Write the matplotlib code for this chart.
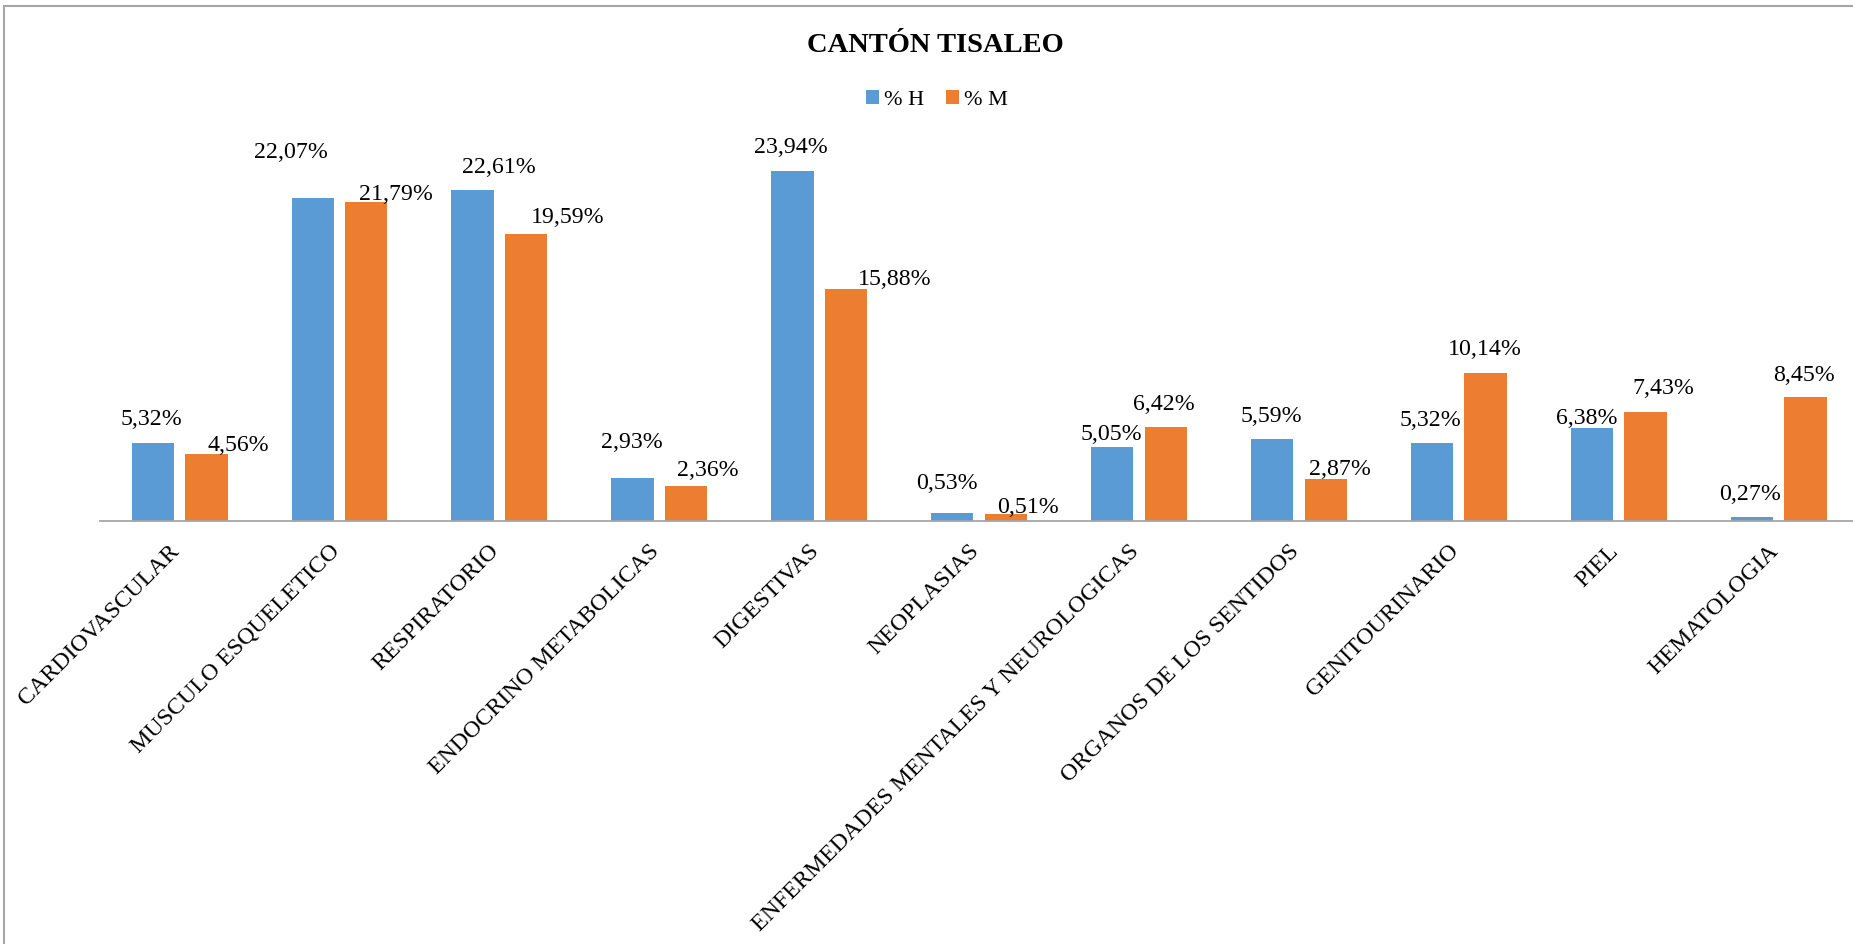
import matplotlib
matplotlib.use("Agg")
import matplotlib.pyplot as plt
import matplotlib.transforms as mtransforms
from matplotlib.patches import Rectangle, Patch
import numpy as np

# ---- data ----
categories = ["CARDIOVASCULAR", "MUSCULO ESQUELETICO", "RESPIRATORIO",
              "ENDOCRINO METABOLICAS", "DIGESTIVAS", "NEOPLASIAS",
              "ENFERMEDADES MENTALES Y NEUROLOGICAS", "ORGANOS DE LOS SENTIDOS",
              "GENITOURINARIO", "PIEL", "HEMATOLOGIA"]
pct_h = [5.32, 22.07, 22.61, 2.93, 23.94, 0.53, 5.05, 5.59, 5.32, 6.38, 0.27]
pct_m = [4.56, 21.79, 19.59, 2.36, 15.88, 0.51, 6.42, 2.87, 10.14, 7.43, 8.45]
series_names = ["% H", "% M"]
title = "CANTÓN TISALEO"

# ---- layout / style ----
W, H = 1853, 944
DPI = 100
blue = "#5B9BD5"
orange = "#ED7D31"
FONT = "Liberation Serif"
# label offsets (pixels: dx right, dy above bar top) as placed in the original
off_h = [(-1.5, 18.3), (-22, 40.3), (26.5, 17.5), (-1.1, 29.8), (-1.6, 17.5),
         (-5, 23.9), (-1, 7.1), (-1, 17.5), (-1.4, 17.2), (-5, 3.7), (-1.5, 17)]
off_m = [(32, 3.6), (29.6, 2.2), (41.4, 11), (21.9, 10.5), (49, 3.7),
         (22.5, 0.8), (-1.75, 17.1), (14, 4), (-1, 17.7), (18.2, 18), (-1.6, 16.7)]

fig = plt.figure(figsize=(W / DPI, H / DPI), dpi=DPI)
fig.patch.set_facecolor("white")

left_px = 99.7
cat_px = 159.9
base_px = 521.0
px_per_unit = 14.63
ymax = 30.0
top_px = base_px - ymax * px_per_unit
ax = fig.add_axes([left_px / W, (H - base_px) / H,
                   len(categories) * cat_px / W, (base_px - top_px) / H])
ax.set_xlim(-0.5, len(categories) - 0.5)
ax.set_ylim(0, ymax)
ax.patch.set_alpha(0)

x = np.arange(len(categories))
bw = 0.2645
bars_h = ax.bar(x - 0.168, pct_h, width=bw, color=blue, linewidth=0)
bars_m = ax.bar(x + 0.167, pct_m, width=bw, color=orange, linewidth=0)

def fmt(v):
    return f"{v:.2f}".replace(".", ",") + "%"

for bars, vals, offs in ((bars_h, pct_h, off_h), (bars_m, pct_m, off_m)):
    for b, v, (dx, dy) in zip(bars, vals, offs):
        ax.annotate(fmt(v), xy=(b.get_x() + b.get_width() / 2, v),
                    xytext=(dx * 0.72, dy * 0.72), textcoords="offset points",
                    ha="center", va="baseline", fontsize=17.2, family=FONT,
                    color="black", annotation_clip=False)

for s in ("top", "right", "left"):
    ax.spines[s].set_visible(False)
ax.spines["bottom"].set_color("#A6A6A6")
ax.spines["bottom"].set_linewidth(1.3)
ax.set_yticks([])
ax.set_xticks(x)
ax.set_xticklabels(categories, rotation=45, ha="right", fontsize=17.2, family=FONT)
ax.tick_params(axis="x", length=0, pad=14)
shift = mtransforms.ScaledTranslation(4 / DPI, 0, fig.dpi_scale_trans)
for lab in ax.get_xticklabels():
    lab.set_transform(lab.get_transform() + shift)

fig.text(935 / W, 1 - 52.3 / H, title, ha="center", va="baseline",
         fontsize=20.5, fontweight="bold", family=FONT)

handles = [Patch(facecolor=blue, edgecolor="none"), Patch(facecolor=orange, edgecolor="none")]
fig.legend(handles, series_names, loc="center", bbox_to_anchor=(937 / W, 1 - 100 / H),
           ncol=2, frameon=False, prop={"family": FONT, "size": 16},
           handlelength=0.57, handleheight=0.57, handletextpad=0.23,
           columnspacing=1.0, borderpad=0)

# chart border (left and top visible; right/bottom beyond the image)
fig.patches.append(Rectangle((4 / W, -0.05), 1.2, 1.05 - 5.5 / H,
                             transform=fig.transFigure, fill=False,
                             edgecolor="#A6A6A6", linewidth=1.5))

fig.savefig("out.png", dpi=DPI)
